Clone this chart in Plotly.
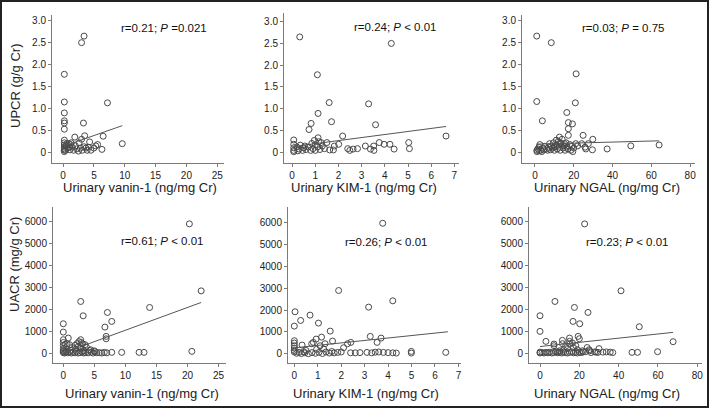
import plotly.graph_objects as go

W, H = 709, 408

# ---------------- data ----------------
# Panel 1: UPCR vs urinary vanin-1
vanin_upcr_x = [3.4, 3.0, 0.2, 0.2, 7.2, 0.2, 0.2, 0.2, 0.2, 3.3, 3.5, 6.5, 1.9, 9.6, 0.2, 0.2, 0.2, 0.2, 0.2, 0.2,
                0.2, 0.5, 0.7, 0.9, 1.1, 1.3, 1.5, 1.7, 2.0, 2.2, 2.5, 2.8, 3.0, 3.1, 3.4, 3.7, 3.9, 4.3, 4.5, 5.0,
                5.3, 5.6, 6.3, 0.4, 0.6, 1.0, 1.2, 2.6, 4.1]
vanin_upcr_y = [2.65, 2.5, 1.78, 1.15, 1.13, 0.9, 0.72, 0.67, 0.53, 0.67, 0.38, 0.37, 0.35, 0.2, 0.28, 0.22, 0.17, 0.12,
                0.08, 0.05, 0.02, 0.15, 0.1, 0.2, 0.06, 0.22, 0.12, 0.05, 0.15, 0.08, 0.03, 0.1, 0.3, 0.05, 0.13, 0.1,
                0.05, 0.24, 0.05, 0.1, 0.15, 0.18, 0.07, 0.05, 0.2, 0.12, 0.18, 0.22, 0.12]
vanin_upcr_fit_x = [0.2, 9.6]
vanin_upcr_fit_y = [0.15, 0.61]

# Panel 2: UPCR vs urinary KIM-1
kim_upcr_x = [0.33, 4.28, 1.09, 1.6, 3.3, 1.12, 1.7, 0.82, 0.73, 3.6, 2.18, 6.64, 5.03, 5.06, 3.76, 3.97, 4.22, 4.4,
              3.16, 3.38, 3.52, 3.53, 2.82, 2.4, 2.49, 2.63, 2.01, 1.82, 1.78, 1.62, 1.5, 1.25, 1.12, 0.96, 0.07, 0.07,
              0.07, 0.07, 0.07, 0.2, 0.3, 0.35, 0.45, 0.5, 0.6, 0.7, 0.8, 0.9, 1.0, 1.0, 1.1, 1.2, 1.3, 1.4, 0.85,
              0.25, 0.55, 1.15]
kim_upcr_y = [2.65, 2.5, 1.78, 1.14, 1.11, 0.89, 0.7, 0.66, 0.52, 0.63, 0.37, 0.37, 0.22, 0.08, 0.22, 0.18, 0.18, 0.07,
              0.14, 0.07, 0.14, 0.04, 0.08, 0.08, 0.04, 0.07, 0.18, 0.14, 0.05, 0.05, 0.22, 0.22, 0.33, 0.27, 0.28,
              0.18, 0.1, 0.04, 0.01, 0.12, 0.07, 0.16, 0.04, 0.1, 0.06, 0.12, 0.04, 0.08, 0.17, 0.04, 0.12, 0.06,
              0.14, 0.08, 0.2, 0.03, 0.14, 0.24]
kim_upcr_fit_x = [0.07, 6.64]
kim_upcr_fit_y = [0.13, 0.59]

# Panel 3: UPCR vs urinary NGAL
ngal_upcr_x = [0.9, 8.4, 21.2, 0.9, 20.8, 16.4, 3.8, 17.2, 19.3, 17.2, 17.2, 24.8, 12.6, 29.8, 24.1, 27.5, 25.8, 26.2,
               29.6, 37.2, 49.4, 64.0, 1.0, 1.5, 2.0, 2.5, 3.0, 4.0, 4.5, 5.0, 6.0, 6.5, 7.0, 7.5, 8.0, 8.5, 9.0, 9.5,
               10.0, 10.5, 11.0, 11.5, 12.0, 12.5, 13.0, 13.5, 14.0, 14.5, 15.0, 15.5, 16.0, 16.5, 17.0, 18.0, 18.5,
               19.0, 19.5, 20.0, 21.0, 22.0, 11.0, 13.0, 9.8, 15.2, 1.0, 2.2, 3.5]
ngal_upcr_y = [2.65, 2.5, 1.79, 1.16, 1.13, 0.91, 0.72, 0.68, 0.65, 0.54, 0.39, 0.39, 0.35, 0.3, 0.2, 0.2, 0.12, 0.08,
               0.06, 0.08, 0.15, 0.17, 0.05, 0.08, 0.12, 0.18, 0.05, 0.1, 0.06, 0.14, 0.08, 0.05, 0.12, 0.2, 0.06,
               0.15, 0.1, 0.22, 0.05, 0.13, 0.18, 0.08, 0.25, 0.12, 0.05, 0.2, 0.3, 0.1, 0.15, 0.05, 0.22, 0.12, 0.08,
               0.18, 0.05, 0.14, 0.02, 0.1, 0.2, 0.15, 0.28, 0.22, 0.12, 0.2, 0.02, 0.04, 0.02]
ngal_upcr_fit_x = [0.9, 64.0]
ngal_upcr_fit_y = [0.19, 0.265]

# Panel 4: UACR vs urinary vanin-1
vanin_uacr_x = [20.3, 22.2, 2.8, 3.2, 7.1, 13.9, 7.8, 6.7, 6.9, 6.9, 0.0, 0.0, 0.0, 0.0, 0.0, 0.8, 2.8, 2.5, 2.2, 1.9,
                2.4, 2.9, 3.1, 3.5, 3.7, 1.4, 1.0, 0.6, 0.3, 2.0, 2.7, 4.2, 3.3, 7.8, 9.4, 12.2, 13.0, 20.7, 0.0, 0.0,
                0.0, 0.0, 0.2, 0.4, 0.7, 1.0, 1.3, 1.6, 1.9, 2.1, 2.4, 2.7, 3.0, 3.3, 3.6, 4.0, 4.5, 4.8, 5.1, 5.4,
                5.8, 6.2, 6.6, 7.0, 5.0, 4.4, 1.2, 0.5]
vanin_uacr_y = [5900, 2840, 2355, 1700, 1853, 2081, 1443, 1185, 760, 650, 1337, 957, 608, 480, 350, 684, 608, 520, 430,
                350, 300, 480, 420, 380, 280, 250, 380, 420, 400, 180, 220, 120, 100, 30, 30, 30, 30, 76, 20, 60, 120,
                200, 0, 40, 10, 60, 0, 30, 10, 80, 0, 20, 50, 0, 20, 10, 40, 0, 60, 10, 20, 0, 30, 10, 100, 150, 120,
                80]
vanin_uacr_fit_x = [0.0, 22.2]
vanin_uacr_fit_y = [0, 2310]

# Panel 5: UACR vs urinary KIM-1
kim_uacr_x = [3.77, 1.89, 3.17, 4.2, 0.03, 0.27, 0.67, 0.0, 1.03, 1.53, 1.63, 1.16, 0.93, 0.81, 0.74, 1.31, 1.1, 3.24,
              3.7, 3.53, 2.27, 2.41, 2.1, 0.33, 0.0, 0.0, 0.0, 0.0, 0.0, 0.0, 4.99, 4.99, 6.46, 0.1, 0.2, 0.3, 0.45,
              0.6, 0.75, 0.9, 1.05, 1.2, 1.35, 1.5, 1.7, 1.85, 2.0, 2.4, 2.6, 2.8, 3.1, 3.3, 3.45, 3.6, 3.8, 4.0, 4.2,
              4.35, 0.5, 0.95, 1.25, 1.6, 0.4]
kim_uacr_y = [5970, 2893, 2132, 2421, 1919, 1523, 1766, 1264, 1401, 1035, 579, 761, 670, 518, 457, 457, 365, 792, 716,
              518, 457, 518, 274, 396, 594, 487, 365, 259, 150, 80, 107, 30, 61, 20, 60, 10, 40, 0, 50, 20, 60, 10,
              80, 30, 40, 60, 80, 40, 40, 50, 60, 40, 70, 80, 60, 50, 40, 30, 150, 200, 220, 100, 90]
kim_uacr_fit_x = [0.0, 6.55]
kim_uacr_fit_y = [270, 1005]

# Panel 6: UACR vs urinary NGAL
ngal_uacr_x = [22.7, 41.2, 7.6, 17.5, 24.4, 0.0, 16.8, 20.2, 50.5, 0.0, 67.7, 59.8, 46.8, 49.6, 3.0, 7.1, 7.1, 19.4,
               20.0, 15.0, 15.0, 15.0, 11.4, 11.4, 16.5, 18.2, 13.0, 14.0, 17.0, 12.0, 10.0, 19.0, 9.0, 21.5, 24.0,
               25.0, 28.6, 32.0, 33.7, 35.7, 23.2, 25.3, 27.8, 37.0, 0.0, 0.0, 1.0, 2.0, 3.0, 4.0, 5.0, 6.0, 7.0, 8.0,
               9.0, 10.0, 11.0, 12.0, 13.0, 14.0, 15.0, 16.0, 17.0, 18.0, 19.0, 20.0, 21.0, 22.0, 26.0, 29.5, 30.0]
ngal_uacr_y = [5880, 2833, 2348, 2076, 1848, 1697, 1439, 1333, 1197, 985, 515, 60, 30, 30, 530, 409, 333, 758, 650,
               680, 530, 409, 576, 424, 455, 333, 300, 200, 250, 150, 100, 150, 60, 100, 250, 150, 40, 40, 50, 40, 60,
               100, 50, 20, 0, 40, 20, 0, 30, 10, 40, 0, 20, 50, 10, 30, 0, 40, 20, 0, 30, 60, 10, 30, 0, 40, 20, 50,
               20, 30, 200]
ngal_uacr_fit_x = [0.0, 67.7]
ngal_uacr_fit_y = [295, 940]

# tick labels
upcr_tickvals = [0, 0.5, 1.0, 1.5, 2.0, 2.5, 3.0]
upcr_ticktext = ["0", "0.5", "1.0", "1.5", "2.0", "2.5", "3.0"]
uacr_tickvals = [0, 1000, 2000, 3000, 4000, 5000, 6000]
vanin_tickvals = [0, 5, 10, 15, 20, 25]
kim_tickvals = [0, 1, 2, 3, 4, 5, 6, 7]
ngal_tickvals = [0, 20, 40, 60, 80]

x_titles = ["Urinary vanin-1 (ng/mg Cr)", "Urinary KIM-1 (ng/mg Cr)", "Urinary NGAL (ng/mg Cr)"]
y_titles = ["UPCR (g/g Cr)", "UACR (mg/g Cr)"]
stats = ["r=0.21; <i>P</i> =0.021", "r=0.24; <i>P</i> &lt; 0.01", "r=0.03; <i>P</i> = 0.75",
         "r=0.61; <i>P</i> &lt; 0.01", "r=0.26; <i>P</i> &lt; 0.01", "r=0.23; <i>P</i> &lt; 0.01"]

panels = [
    (vanin_upcr_x, vanin_upcr_y, vanin_upcr_fit_x, vanin_upcr_fit_y),
    (kim_upcr_x, kim_upcr_y, kim_upcr_fit_x, kim_upcr_fit_y),
    (ngal_upcr_x, ngal_upcr_y, ngal_upcr_fit_x, ngal_upcr_fit_y),
    (vanin_uacr_x, vanin_uacr_y, vanin_uacr_fit_x, vanin_uacr_fit_y),
    (kim_uacr_x, kim_uacr_y, kim_uacr_fit_x, kim_uacr_fit_y),
    (ngal_uacr_x, ngal_uacr_y, ngal_uacr_fit_x, ngal_uacr_fit_y),
]

# ---------------- layout (pixel boxes) ----------------
boxes = [(52, 224, 15, 163), (284, 459, 13, 163), (522, 695, 15, 163),
         (53, 226, 207, 363), (288, 461, 207, 363), (529, 702, 207, 363)]
xranges = [[-1.8, 26.1], [-0.35, 7.2], [-6.7, 82.5], [-1.66, 26.2], [-0.27, 7.11], [-5.6, 82.4]]
yranges = [[-0.24, 3.13], [-0.25, 3.2], [-0.24, 3.13], [-456, 6671], [-425, 6715], [-455, 6650]]
xticks = [vanin_tickvals, kim_tickvals, ngal_tickvals] * 2
stat_pos = [(164, 28), (395, 27), (623, 28), (162, 241), (386, 242), (627, 242)]
xtitle_pos = [(140, 188), (364, 188), (607, 188), (142, 393), (366, 393), (607, 393)]
ytitle_pos = [(15, 86), (14, 265)]

FONT = "Liberation Sans, Arial, sans-serif"
AX = "#7a7a7a"
MK = "#4a4a4a"

fig = go.Figure()
layout = dict(width=W, height=H, margin=dict(l=0, r=0, t=0, b=0),
              paper_bgcolor="white", plot_bgcolor="white", showlegend=False,
              font=dict(family=FONT, color="#222"))
annotations = []

for i, (px, py, fx, fy) in enumerate(panels):
    n = "" if i == 0 else str(i + 1)
    l, r, t, b = boxes[i]
    fig.add_trace(go.Scatter(x=px, y=py, mode="markers", xaxis="x" + n, yaxis="y" + n,
                             marker=dict(symbol="circle-open", size=6, color=MK, line=dict(width=1, color=MK)),
                             cliponaxis=False))
    fig.add_trace(go.Scatter(x=fx, y=fy, mode="lines", xaxis="x" + n, yaxis="y" + n,
                             line=dict(color="#555", width=1)))
    common = dict(showline=True, linecolor=AX, linewidth=1, ticks="outside", ticklen=3, tickcolor=AX,
                  tickwidth=1, showgrid=False, zeroline=False, tickfont=dict(size=10, family=FONT, color="#222"))
    layout["xaxis" + n] = dict(common, domain=[l / W, r / W], range=xranges[i], anchor="y" + n,
                               tickvals=xticks[i], ticktext=[str(v) for v in xticks[i]])
    ydict = dict(common, domain=[1 - b / H, 1 - t / H], range=yranges[i], anchor="x" + n)
    if i < 3:
        ydict.update(tickvals=upcr_tickvals, ticktext=upcr_ticktext)
    else:
        ydict.update(tickvals=uacr_tickvals, ticktext=[str(v) for v in uacr_tickvals])
    layout["yaxis" + n] = ydict

    sx, sy = stat_pos[i]
    annotations.append(dict(text=stats[i], x=sx / W, y=1 - sy / H, xref="paper", yref="paper",
                            showarrow=False, xanchor="center", yanchor="middle",
                            font=dict(size=11.5, family=FONT, color="#111")))
    tx, ty = xtitle_pos[i]
    annotations.append(dict(text=x_titles[i % 3], x=tx / W, y=1 - ty / H, xref="paper", yref="paper",
                            showarrow=False, xanchor="center", yanchor="middle",
                            font=dict(size=13, family=FONT, color="#222")))

for j, (tx, ty) in enumerate(ytitle_pos):
    annotations.append(dict(text=y_titles[j], x=tx / W, y=1 - ty / H, xref="paper", yref="paper",
                            showarrow=False, xanchor="center", yanchor="middle", textangle=-90,
                            font=dict(size=13, family=FONT, color="#222")))

layout["annotations"] = annotations
layout["shapes"] = [dict(type="rect", xref="paper", yref="paper", x0=1 / W, x1=1 - 1 / W, y0=1 / H, y1=1 - 1 / H,
                         line=dict(color="#222", width=2))]
fig.update_layout(**layout)
fig.write_html("out.html", config={"displayModeBar": False, "staticPlot": True},
               post_script="document.body.style.margin='0';document.body.style.overflow='hidden';")
